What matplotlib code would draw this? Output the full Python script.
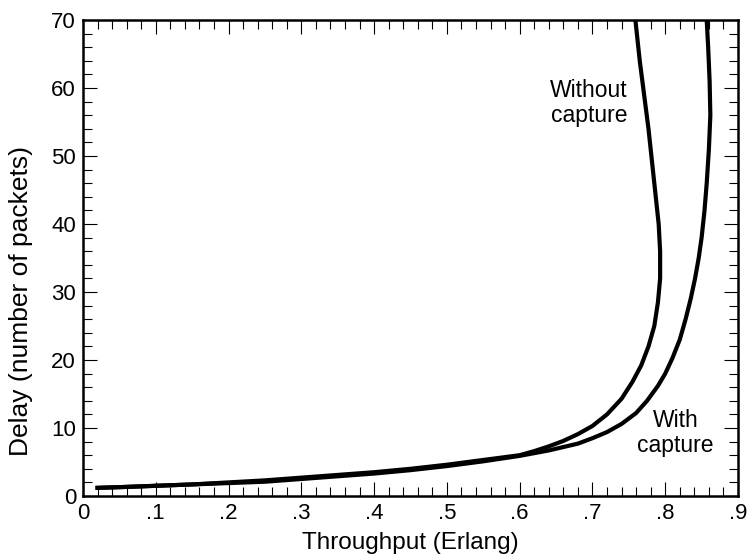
import numpy as np
import matplotlib.pyplot as plt
from matplotlib.ticker import MultipleLocator, FuncFormatter

plt.rcParams['font.family'] = ['Liberation Sans', 'DejaVu Sans']

# without capture (bends back above ~35 packets)
nocap_x = [0.02, 0.05, 0.1, 0.15, 0.2, 0.25, 0.3, 0.35, 0.4, 0.45, 0.5, 0.55, 0.6,
           0.62, 0.64, 0.66, 0.68, 0.70, 0.72, 0.74, 0.755, 0.767, 0.777, 0.785, 0.790,
           0.793, 0.793, 0.791, 0.787, 0.782, 0.777, 0.771, 0.765, 0.759]
nocap_y = [1.2, 1.3, 1.5, 1.7, 2.0, 2.3, 2.7, 3.1, 3.5, 4.0, 4.6, 5.3, 6.0,
           6.6, 7.3, 8.1, 9.1, 10.3, 12.0, 14.3, 16.8, 19.2, 22.0, 25.0, 28.5,
           32.0, 36.0, 40.0, 44.0, 49.0, 54.0, 59.0, 64.0, 70.0]

# with capture
cap_x = [0.02, 0.05, 0.1, 0.15, 0.2, 0.25, 0.3, 0.35, 0.4, 0.45, 0.5, 0.55, 0.6,
         0.62, 0.64, 0.66, 0.68, 0.70, 0.72, 0.74, 0.76, 0.775, 0.79, 0.80, 0.81,
         0.82, 0.828, 0.835, 0.841, 0.846, 0.850, 0.854, 0.857, 0.860, 0.862, 0.861,
         0.859, 0.857]
cap_y = [1.2, 1.3, 1.5, 1.7, 1.9, 2.1, 2.5, 2.9, 3.3, 3.8, 4.4, 5.1, 5.9,
         6.3, 6.7, 7.2, 7.7, 8.5, 9.4, 10.6, 12.2, 14.0, 16.2, 18.0, 20.3,
         23.0, 26.0, 29.0, 32.0, 35.0, 38.0, 42.0, 46.0, 51.0, 56.0, 61.0,
         66.0, 70.0]

fig = plt.figure(figsize=(7.47, 5.59), dpi=100)
ax = fig.add_axes([83/747, 63/559, 655/747, 476/559])

ax.plot(nocap_x, nocap_y, color='black', lw=3, solid_joinstyle='round')
ax.plot(cap_x, cap_y, color='black', lw=3, solid_joinstyle='round')

ax.text(0.695, 57.8, 'Without\ncapture', ha='center', va='center', fontsize=16.5, linespacing=1.1)
ax.text(0.814, 9.3, 'With\ncapture', ha='center', va='center', fontsize=16.5, linespacing=1.1)

ax.set_xlim(0, 0.9)
ax.set_ylim(0, 70)
ax.xaxis.set_major_locator(MultipleLocator(0.1))
ax.xaxis.set_minor_locator(MultipleLocator(0.02))
ax.yaxis.set_major_locator(MultipleLocator(10))
ax.yaxis.set_minor_locator(MultipleLocator(2))

def fmt(v, pos):
    if abs(v) < 1e-9:
        return '0'
    return ('%.1f' % v).lstrip('0')
ax.xaxis.set_major_formatter(FuncFormatter(fmt))

ax.tick_params(which='both', direction='in', top=True, right=True, labelsize=16, width=0.8)
ax.tick_params(which='major', length=10)
ax.tick_params(which='minor', length=6.5)
ax.tick_params(axis='x', pad=5)
ax.tick_params(axis='y', pad=5)
for s in ax.spines.values():
    s.set_linewidth(1.8)

ax.set_xlabel('Throughput (Erlang)', fontsize=17.5, labelpad=6)
ax.set_ylabel('Delay (number of packets)', fontsize=19)
ax.yaxis.set_label_coords(-0.077, 0.41)

fig.savefig('out.png', dpi=100)
